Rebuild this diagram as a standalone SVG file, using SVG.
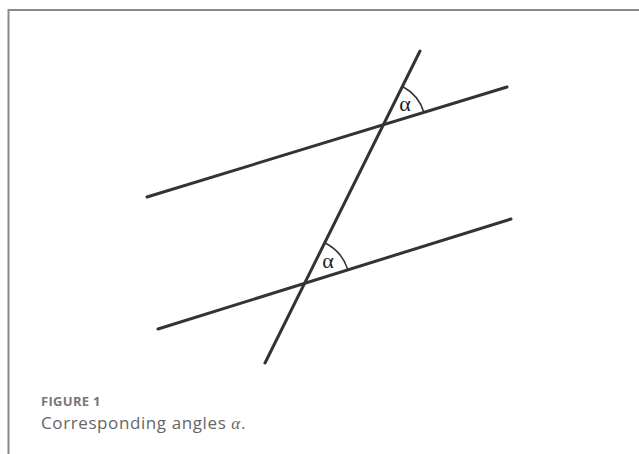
<svg xmlns="http://www.w3.org/2000/svg" width="639" height="454" viewBox="0 0 639 454">
<style>
.ln{stroke:#333;stroke-width:3;stroke-linecap:round;fill:none}
.arc{stroke:#333;stroke-width:1.6;fill:none}
.al{font-family:"Liberation Serif",serif;font-size:22px;fill:#222;text-anchor:middle}
.frame{stroke:#8a8a8a;stroke-width:2;fill:none}
</style>
<rect width="639" height="454" fill="#fff"/>
<path class="frame" d="M8.5,454 V10 H639"/>
<g id="lines">
<line id="upper" class="ln" x1="147" y1="197" x2="507" y2="87"/>
<line id="lower" class="ln" x1="158" y1="329" x2="511" y2="219"/>
<line id="transversal" class="ln" x1="420" y1="51" x2="265" y2="363"/>
</g>
<g id="angle-top">
<path class="arc" d="M402.5,86.5 A44,44 0 0 1 424,112.5"/>
<text class="al" x="405" y="111">α</text>
</g>
<g id="angle-bottom">
<path class="arc" d="M325,243 A44,44 0 0 1 347.5,269"/>
<text class="al" x="328" y="268">α</text>
</g>
<g id="caption">
<text x="41" y="406" font-family="'Open Sans',sans-serif" font-size="13" font-weight="bold" fill="#777" letter-spacing="0.3">FIGURE 1</text>
<text x="41" y="429" font-family="'Open Sans',sans-serif" font-size="17" fill="#666" letter-spacing="0.6">Corresponding angles <tspan font-style="italic" font-family="'Liberation Serif',serif">α</tspan>.</text>
</g>
</svg>
